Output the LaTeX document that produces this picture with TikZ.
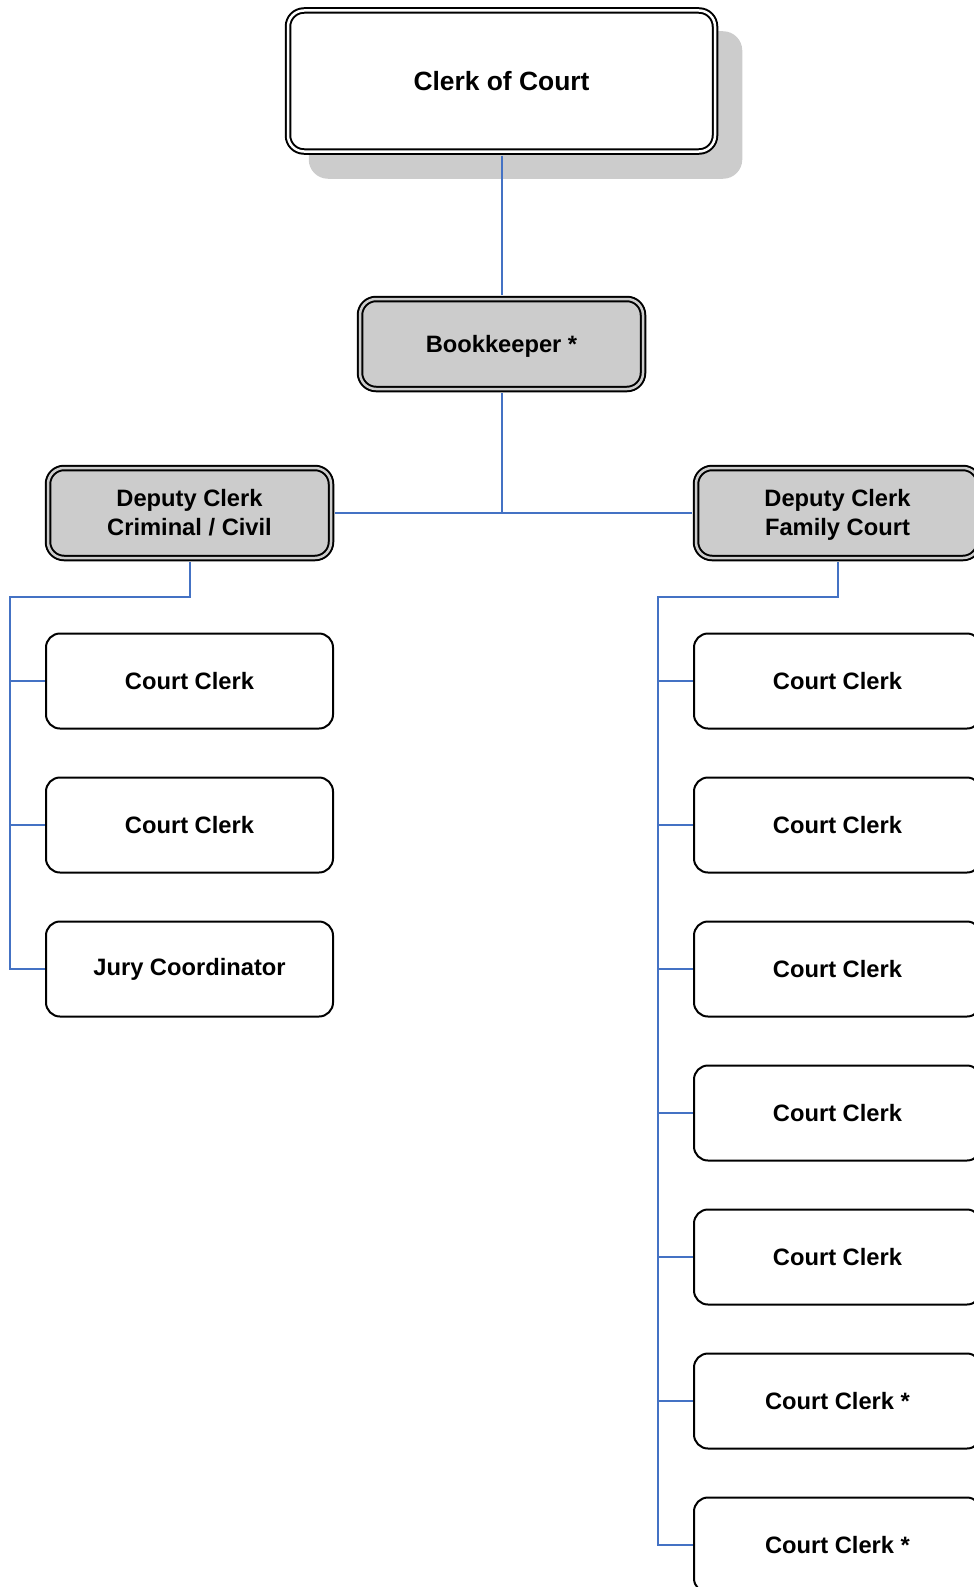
\documentclass[tikz,border=0pt]{standalone}
\usepackage{fontspec}
\setmainfont{Liberation Sans}
\usepackage{xcolor}
\usetikzlibrary{shadows}
\definecolor{linkblue}{RGB}{68,114,196}
\definecolor{boxgray}{RGB}{204,204,204}
\tikzset{
  unit/.style={draw=black, line width=2pt, rounded corners=14pt, fill=white,
    minimum width=287pt, minimum height=95pt, inner sep=0pt, align=center,
    font=\fontsize{23.7}{29}\selectfont\bfseries},
  headunit/.style={unit, fill=boxgray, double=boxgray, double distance=2.5pt,
    minimum width=283pt, minimum height=90pt, rounded corners=16pt},
  link/.style={draw=linkblue, line width=2pt}
}
\begin{document}
\begin{tikzpicture}[x=1pt,y=-1pt]
\path[use as bounding box] (0,0) rectangle (974,1587);
\clip (0,0) rectangle (974,1587);
% Drawing boxes
\node[headunit, fill=white, double=white, minimum width=427pt, minimum height=141pt,
  font=\fontsize{26.4}{32}\selectfont\bfseries,
  drop shadow={shadow xshift=24pt, shadow yshift=-24pt, fill=boxgray,
    draw=boxgray, line width=6.5pt, opacity=1}]
  (clerk) at (501.5,81) {Clerk of Court};
\node[headunit] (book) at (501.5,344) {\rule{0pt}{21.3pt}Bookkeeper *};
\node[headunit] (depL) at (189.5,513) {\rule{0pt}{24.3pt}Deputy Clerk\\\strut Criminal / Civil};
\node[headunit] (depR) at (837.5,513) {\rule{0pt}{24.3pt}Deputy Clerk\\\strut Family Court};
% Left column
\node[unit] (ccL1) at (189.5,681) {Court Clerk};
\node[unit] (ccL2) at (189.5,825) {Court Clerk};
\node[unit] (jury) at (189.5,969) {Jury Coordinator};
% Right column
\foreach \i/\t in {1/Court Clerk, 2/Court Clerk, 3/Court Clerk, 4/Court Clerk,
    5/Court Clerk, 6/Court Clerk *, 7/Court Clerk *}
  \node[unit] (ccR\i) at (837.5,{681+144*(\i-1)}) {\t};
% Done with boxes; drawing connectors
\draw[link, shorten <=3pt, shorten >=3pt] (clerk) -- (book);
\draw[link, shorten <=3pt] (book) -- (book |- depL.east);
\draw[link, shorten <=3pt, shorten >=3pt] (depL.east) -- (depR.west);
% Left trunk
\coordinate (trunkL) at (10,597);
\draw[link, shorten <=3pt] (depL.south) |- (trunkL) -- (trunkL |- jury.west) -- (jury.west);
\foreach \n in {ccL1,ccL2}
  \draw[link] (trunkL |- \n.west) -- (\n.west);
% Right trunk
\coordinate (trunkR) at (658,597);
\draw[link, shorten <=3pt] (depR.south) |- (trunkR) -- (trunkR |- ccR7.west) -- (ccR7.west);
\foreach \i in {1,...,6}
  \draw[link] (trunkR |- ccR\i.west) -- (ccR\i.west);
% Done with connectors
\end{tikzpicture}
\end{document}
